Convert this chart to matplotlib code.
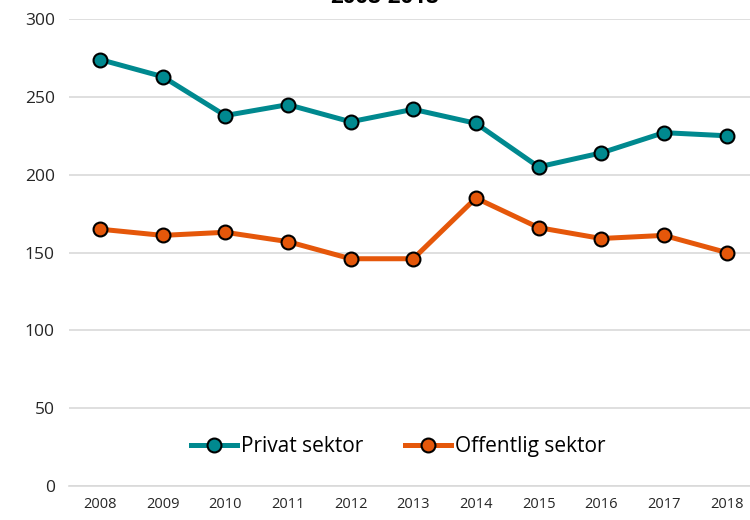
import matplotlib
matplotlib.use("Agg")
import matplotlib.pyplot as plt

years = [2008, 2009, 2010, 2011, 2012, 2013, 2014, 2015, 2016, 2017, 2018]
privat = [274, 263, 238, 245, 234, 242, 233, 205, 214, 227, 225]
offentlig = [165, 161, 163, 157, 146, 146, 185, 166, 159, 161, 150]

plt.rcParams['font.family'] = ['Open Sans', 'DejaVu Sans']

fig = plt.figure(figsize=(7.5, 5.2), dpi=100)
ax = fig.add_axes([0.0915, 0.0654, 0.919, 0.898])

x = list(range(len(years)))
ax.plot(x, privat, color='#00898F', lw=3.6, marker='o', ms=10,
        mfc='#00898F', mec='black', mew=1.5, label='Privat sektor', zorder=3)
ax.plot(x, offentlig, color='#E5570A', lw=3.6, marker='o', ms=10,
        mfc='#E5570A', mec='black', mew=1.5, label='Offentlig sektor', zorder=3)

ax.set_xlim(-0.5, len(years) - 0.5)
ax.set_ylim(0, 300)
ax.set_yticks(range(0, 301, 50))
ax.set_xticks(x)
ax.set_xticklabels(years)
ax.grid(axis='y', color='#d9d9d9', lw=1.2)
ax.set_axisbelow(True)
for s in ['top', 'right', 'left']:
    ax.spines[s].set_visible(False)
ax.spines['bottom'].set_color('#d9d9d9')
ax.spines['bottom'].set_linewidth(1.2)
ax.tick_params(axis='both', length=0, colors='#262626')
ax.tick_params(axis='y', labelsize=12.5, pad=10)
ax.tick_params(axis='x', labelsize=10.5, pad=8)

ax.legend(loc='center', bbox_to_anchor=(0.478, 0.085), ncol=2, frameon=False,
          fontsize=15, handlelength=2.2, columnspacing=2.0, handletextpad=0.2)

fig.text(0.513, 0.995, '2008-2018', ha='center', va='baseline',
         fontsize=16, fontweight='bold')

fig.savefig('out.png', dpi=100)
